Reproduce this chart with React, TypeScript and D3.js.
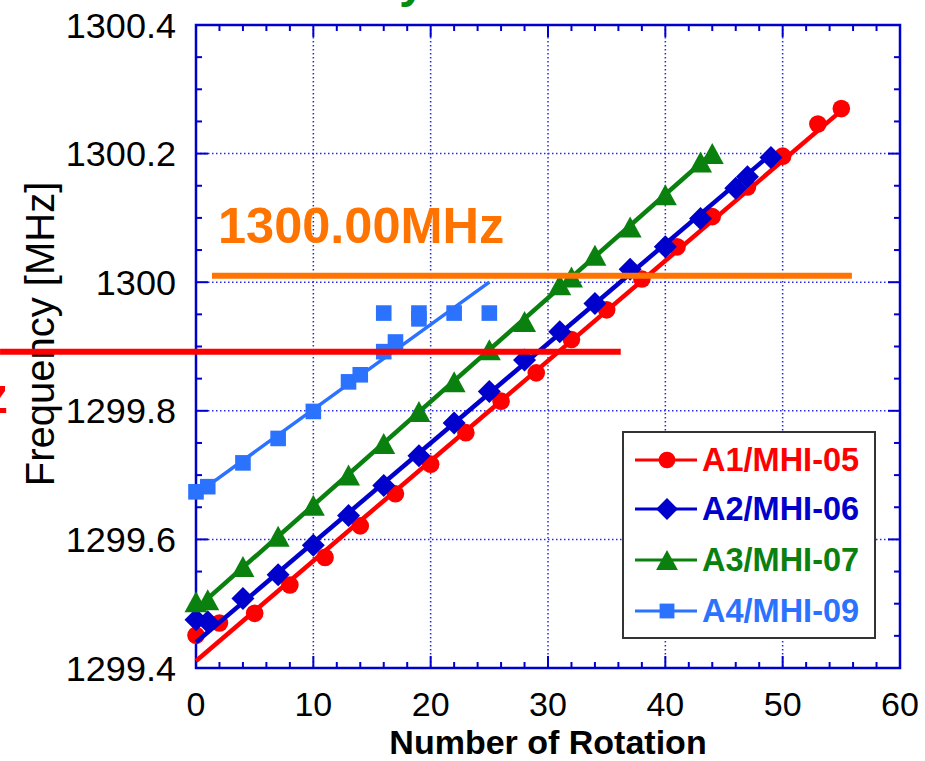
import React from "react";
import * as d3 from "d3";

// ---------- data ----------
const xTicks = [0, 10, 20, 30, 40, 50, 60];
const yTicks = [1299.4, 1299.6, 1299.8, 1300, 1300.2, 1300.4];
const yTickLabels = ["1299.4", "1299.6", "1299.8", "1300", "1300.2", "1300.4"];

const a1X = [0, 2, 5, 8, 11, 14, 17, 20, 23, 26, 29, 32, 35, 38, 41, 44, 47, 50, 53, 55];
const a1Y = [1299.451, 1299.47, 1299.485, 1299.529, 1299.572, 1299.621, 1299.671, 1299.717, 1299.766, 1299.815, 1299.859, 1299.911, 1299.957, 1300.005, 1300.055, 1300.102, 1300.148, 1300.196, 1300.246, 1300.27];
const a1Fit = [[0, 1299.411], [55.4, 1300.273]];

const a2X = [0, 1, 4, 7, 10, 13, 16, 19, 22, 25, 28, 31, 34, 37, 40, 43, 46, 47, 49];
const a2Y = [1299.475, 1299.472, 1299.508, 1299.545, 1299.591, 1299.637, 1299.684, 1299.73, 1299.781, 1299.83, 1299.879, 1299.923, 1299.967, 1300.02, 1300.055, 1300.099, 1300.146, 1300.164, 1300.194];
const a2Fit = [[0, 1299.44], [49, 1300.199]];

const a3X = [0, 1, 4, 7, 10, 13, 16, 19, 22, 25, 28, 31, 32, 34, 37, 40, 43, 44];
const a3Y = [1299.503, 1299.506, 1299.558, 1299.605, 1299.653, 1299.7, 1299.749, 1299.799, 1299.845, 1299.895, 1299.939, 1299.996, 1300.008, 1300.042, 1300.086, 1300.136, 1300.187, 1300.2];
const a3Fit = [[0, 1299.492], [44, 1300.201]];

const a4X = [0, 1, 4, 7, 10, 13, 14, 16, 17, 16, 19, 19, 22, 25];
const a4Y = [1299.674, 1299.682, 1299.719, 1299.757, 1299.799, 1299.845, 1299.856, 1299.892, 1299.907, 1299.952, 1299.952, 1299.943, 1299.952, 1299.952];
const a4Fit = [[0, 1299.67], [25, 1300.0]];

const legendLabels = ["A1/MHI-05", "A2/MHI-06", "A3/MHI-07", "A4/MHI-09"];

const orangeLevel = 1300.01;
const orangeRange = [1.36, 55.9];
const redLevel = 1299.892;
const redRange = [-16.7, 36.2];
const orangeText = "1300.00MHz";

// ---------- layout ----------
const W = 925, H = 761;
const L = 196, R = 900, T = 25, B = 668;
const AX = "#0000cc";
const FONT = "'Liberation Sans', Arial, Helvetica, sans-serif";

const COLORS = ["#ff0000", "#0000cc", "#0a800f", "#2b72ff"];

function Marker({ kind, x, y, color, s = 1 }: { kind: number; x: number; y: number; color: string; s?: number }) {
  if (kind === 0) return <circle cx={x} cy={y} r={8.8 * s} fill={color} />;
  if (kind === 1) {
    const d = 11.5 * s;
    return <path d={`M${x},${y - d}L${x + d},${y}L${x},${y + d}L${x - d},${y}Z`} fill={color} />;
  }
  if (kind === 2) {
    const w = 11.5 * s, h = 10.5 * s;
    return <path d={`M${x},${y - h}L${x + w},${y + h}L${x - w},${y + h}Z`} fill={color} />;
  }
  const h = 7.8 * s;
  return <rect x={x - h} y={y - h} width={2 * h} height={2 * h} fill={color} />;
}

export default function App() {
  const x = d3.scaleLinear().domain([0, 60]).range([L, R]);
  const y = d3.scaleLinear().domain([1299.4, 1300.4]).range([B, T]);

  const xMinor = d3.range(0, 61, 2);
  const yMinor = d3.range(0, 21).map((i) => 1299.4 + i * 0.05);

  const series = [
    { xs: a1X, ys: a1Y, fit: a1Fit, w: 4.5 },
    { xs: a2X, ys: a2Y, fit: a2Fit, w: 4.5 },
    { xs: a3X, ys: a3Y, fit: a3Fit, w: 4.5 },
    { xs: a4X, ys: a4Y, fit: a4Fit, w: 3.5 },
  ];
  const line = d3.line<number[]>().x((d) => x(d[0])).y((d) => y(d[1]));

  const lgX = 623, lgY = 432, lgW = 252, lgH = 206;
  const rows = [460, 509, 560, 611];

  return (
    <svg width={W} height={H} style={{ position: "absolute", left: 0, top: 0, background: "#fff" }} fontFamily={FONT}>
      <rect x={0} y={0} width={W} height={H} fill="#fff" />
      {/* grid */}
      {xTicks.slice(1, -1).map((t) => (
        <line key={"gx" + t} x1={x(t)} x2={x(t)} y1={T} y2={B} stroke="#2a2ae6" strokeWidth={1.5} strokeDasharray="1.5,2.5" />
      ))}
      {yTicks.slice(1, -1).map((t) => (
        <line key={"gy" + t} x1={L} x2={R} y1={y(t)} y2={y(t)} stroke="#2a2ae6" strokeWidth={1.5} strokeDasharray="1.5,2.5" />
      ))}
      {/* ticks */}
      {xMinor.map((t) => {
        const len = t % 10 === 0 ? 12 : 6;
        return (
          <g key={"xt" + t}>
            <line x1={x(t)} x2={x(t)} y1={B} y2={B - len} stroke={AX} strokeWidth={2} />
            <line x1={x(t)} x2={x(t)} y1={T} y2={T + len} stroke={AX} strokeWidth={2} />
          </g>
        );
      })}
      {yMinor.map((t, i) => {
        const len = i % 4 === 0 ? 12 : 6;
        return (
          <g key={"yt" + i}>
            <line x1={L} x2={L + len} y1={y(t)} y2={y(t)} stroke={AX} strokeWidth={2} />
            <line x1={R} x2={R - len} y1={y(t)} y2={y(t)} stroke={AX} strokeWidth={2} />
          </g>
        );
      })}
      <rect x={L} y={T} width={R - L} height={B - T} fill="none" stroke={AX} strokeWidth={2.5} />

      {/* tick labels */}
      {xTicks.map((t) => (
        <text key={"xl" + t} x={x(t)} y={716} textAnchor="middle" fontSize={34} fill="#000">{t}</text>
      ))}
      {yTicks.map((t, i) => (
        <text key={"yl" + t} transform={`translate(176,${y(t) + 12.5}) scale(1.03,1)`} textAnchor="end" fontSize={35} fill="#000">{yTickLabels[i]}</text>
      ))}
      <text x={548} y={754} textAnchor="middle" fontSize={34} fontWeight="bold" fill="#000">Number of Rotation</text>
      <text transform="translate(54,334) rotate(-90)" textAnchor="middle" fontSize={40} fill="#000">Frequency [MHz]</text>

      {/* series */}
      {series.map((s, i) => (
        <g key={"s" + i}>
          <path d={line(s.fit) || ""} stroke={COLORS[i]} strokeWidth={s.w} fill="none" />
          {s.xs.map((v, j) => (
            <Marker key={j} kind={i} x={x(v)} y={y(s.ys[j])} color={COLORS[i]} />
          ))}
        </g>
      ))}

      {/* annotations */}
      <line x1={x(orangeRange[0])} x2={x(orangeRange[1])} y1={y(orangeLevel)} y2={y(orangeLevel)} stroke="#ff7300" strokeWidth={6} />
      <text x={218} y={243} fontSize={50.5} fontWeight="bold" fill="#ff7300">{orangeText}</text>
      <line x1={x(redRange[0])} x2={x(redRange[1])} y1={y(redLevel)} y2={y(redLevel)} stroke="#ff0000" strokeWidth={6} />
      <text x={8} y={413} textAnchor="end" fontSize={50} fontWeight="bold" fill="#ff0000">1299.89MHz</text>
      <text x={399} y={-3} fontSize={48} fontWeight="bold" fill="#0a8a10">y</text>

      {/* legend */}
      <rect x={lgX} y={lgY} width={lgW} height={lgH} fill="#fff" stroke="#333" strokeWidth={2} />
      {rows.map((ry, i) => (
        <g key={"lg" + i}>
          <line x1={635} x2={697} y1={ry} y2={ry} stroke={COLORS[i]} strokeWidth={3} />
          <Marker kind={i} x={667} y={ry} color={COLORS[i]} s={0.95} />
          <text x={702} y={ry + 11} fontSize={32.5} fontWeight="bold" fill={COLORS[i]}>{legendLabels[i]}</text>
        </g>
      ))}
    </svg>
  );
}
